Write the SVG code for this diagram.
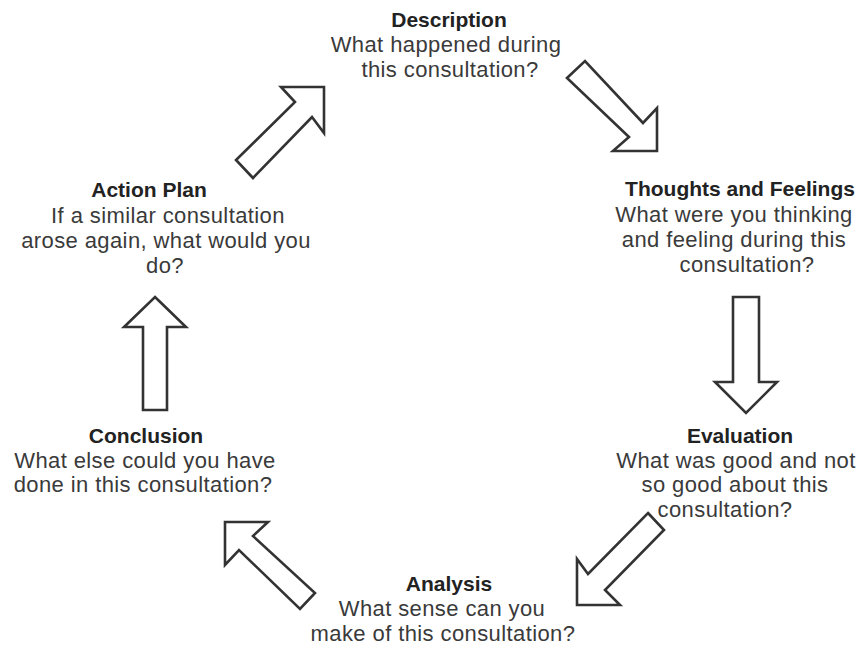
<svg xmlns="http://www.w3.org/2000/svg" width="862" height="650" viewBox="0 0 862 650">
<style>
.arr{fill:#fff;stroke:#333;stroke-width:2.6;stroke-linejoin:miter}
text{font-family:"Liberation Sans",Arial,sans-serif;text-anchor:middle}
.t{font-size:21px;font-weight:bold;fill:#222}
.b{font-size:22px;fill:#3a3a3a;letter-spacing:0.4px}
</style>
<rect width="862" height="650" fill="#fff"/>
<g id="connectors">
<polygon class="arr" points="324,87 281,87 295,102 236,160 253,178 312,117 324,133"/>
<polygon class="arr" points="567,78 585,61 643,123 657,108 657,151 613,151 629,137"/>
<polygon class="arr" points="733,297 759,297 759,382 777,382 746,413 715,382 733,382"/>
<polygon class="arr" points="648,513 664,530 605,590 620,605 577,605 577,559 588,574"/>
<polygon class="arr" points="225,522 268,522 253,536 315,593 300,609 239,550 225,565"/>
<polygon class="arr" points="155,297 186,327 167,327 167,410 143,410 143,327 124,327"/>
</g>
<g id="description">
<text class="t" x="449" y="27">Description</text>
<text class="b" x="446" y="52">What happened during</text>
<text class="b" x="450" y="77">this consultation?</text>
</g>
<g id="thoughts">
<text class="t" x="740" y="196">Thoughts and Feelings</text>
<text class="b" x="734" y="222">What were you thinking</text>
<text class="b" x="734" y="247">and feeling during this</text>
<text class="b" x="747" y="272">consultation?</text>
</g>
<g id="evaluation">
<text class="t" x="740" y="443">Evaluation</text>
<text class="b" x="736" y="468">What was good and not</text>
<text class="b" x="735" y="492">so good about this</text>
<text class="b" x="725" y="517">consultation?</text>
</g>
<g id="analysis">
<text class="t" x="449" y="591">Analysis</text>
<text class="b" x="442" y="616">What sense can you</text>
<text class="b" x="443" y="641">make of this consultation?</text>
</g>
<g id="conclusion">
<text class="t" x="146" y="443">Conclusion</text>
<text class="b" x="145" y="468">What else could you have</text>
<text class="b" x="143" y="492">done in this consultation?</text>
</g>
<g id="actionplan">
<text class="t" x="149" y="197">Action Plan</text>
<text class="b" x="168" y="223">If a similar consultation</text>
<text class="b" x="166" y="248">arose again, what would you</text>
<text class="b" x="165" y="273">do?</text>
</g>
</svg>
